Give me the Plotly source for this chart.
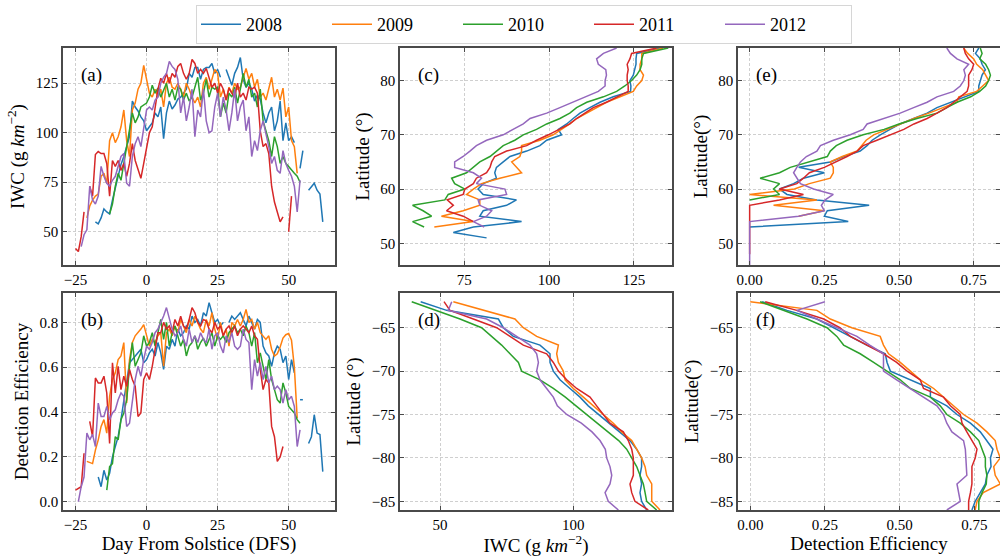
import plotly.graph_objects as go

YEARS = ["2008", "2009", "2010", "2011", "2012"]
COLORS = ["#1f77b4", "#ff7f0e", "#2ca02c", "#d62728", "#9467bd"]

# ---- Day-from-solstice panels (a) IWC and (b) detection efficiency ----
DFS_START = {"2008": -18, "2009": -21, "2010": -14, "2011": -25, "2012": -24}

IWC_2008 = [55, 54, 57, 61.5, 60, 59, 66, 72, 79, 84, 88, 93, 98, 116, 113, 111, 108, 106,
            101, 103, 105, 110, 108, 113, 97, 110, 116, 112, 114, 117, 118, 120, 122, 130, 128, 133,
            133, 127, 132, 133, 133, 135, 130, 132, 128, None,
            132, 128, 124, 130, 133, 138, 127, 123, 125, 122, 116, 119, 117, 110, 105, 110, 113, 101,
            106, 116, 96, 105, 96, 98, 95, None, 82, 91, None, 71, 73, 74.5, 71, 69, 55]
IWC_2009 = [57, 63, 66, 68, 69, 78, 79.5, 74.5, 96, 100, 95, 98, 103, 111.5, 96, 88, 111.5, 115, 122, 125, 134,
            127, 120, 118, 122, 118, 122, 113, 125, 128, 123,
            122, 125, 122, 118, 125, 122, 118, 115, 118, 113,
            125, 128, 122, 127, 132, 130, 118, 122, 116.5, 123,
            120, 125, 122, 123, 128, 132.5, 127, 130, 123, 127,
            118, 120, 116.5, 122, 128, 118, 122, 116.5, 122.5, 108,
            113, 96, 93, 79.5]
IWC_2010 = [None, 59, 64, 73, 79.5, 76, 84.5, 94.5, 101, 110, 105, 108, 113, 114,
            115, 118, 124, 120, 122.5, 118, 122, 125, 118, 122,
            116.5, 123, 122, 116.5, 120, 116, 118, 123, 128, 116.5,
            120, 127, 118, 123, 122, 123, 108, 115, 110, 120,
            118, 123, 115, 122, 130, 123, 127, 118, 120, 113,
            122, 106, 101, 96, 88, 98, 93, 84.5, 88, 84.5,
            83, 81, 79.5, 78, 75]
IWC_2011 = [41.5, 40, 47.5, 60, None, 73, 68, 89, 90.5, 89.5, 89.5, 84.5, 68, 86, 83, 86, 81, 84.5, 78, 84.5,
            94.5, 86, 81, 77, 84.5,
            93, 100, 103, 113, 122, 127.5, 125, 130, 125, 130,
            128, 133.5, 135, 130, 127, 130, 137, 135, 130, 132,
            130, 132.5, 127, 123, 125, 120, 125, 122, 116.5, 122.5,
            120, 118, 125, 118, 120, 116.5, 123, 122, 123, 120,
            101, 93, 94.5, 89.5, 73, 65, 60, 55, 57.5, None,
            50, 68]
IWC_2012 = [None, 42.5, 48.5, 51, 73, 66, 64, 68, 83, 78, 74.5, 73, 76, 78, 83, 88, 89.5, 74.5, 73, 88,
            94.5, 98, 93, 103,
            111.5, 113, 111.5, 116.5, 118, 125, 128, 130, 136, 133.5,
            132, 127, 110, 118, 106, 113, 122, 98, 111.5, 108,
            122, 106, 100, 101, 113, 120, 108, 118, 111.5, 101,
            110, 122, 106, 113, 116.5, 101, 108, 88, 96, 91,
            101, 106, 100, 93, 84.5, 88, 81, 79.5, 91, 84.5,
            81, 78, 73, 60, 76]

DE_2008 = [None, 0.11, 0.067, 0.14, 0.097, 0.127, 0.20, 0.246, 0.29, 0.366, 0.455, 0.545, 0.62, 0.634,
           0.65, 0.664, 0.68, 0.62,
           0.634, 0.664, 0.68, 0.65, 0.71, 0.664, 0.59, 0.694, 0.68, 0.724,
           0.694, 0.77, 0.74, 0.754, 0.784, 0.77, 0.828, 0.80, 0.813, 0.784,
           0.843, 0.828, 0.888, 0.843, 0.80, 0.813, 0.784, 0.80, None,
           0.80, 0.828, 0.813, 0.828, 0.843, 0.813, 0.784, 0.828, 0.80, 0.77,
           0.813, 0.80, 0.694, 0.664, 0.65, 0.604, 0.664, 0.694, 0.68, 0.62,
           0.65, 0.545, 0.634, 0.575, None, 0.455, 0.455, None,
           0.26, 0.29, 0.388, 0.306, 0.30, 0.134]
DE_2009 = [0.18, 0.175, 0.17, 0.23, 0.276, 0.336, 0.366, 0.306, 0.47, 0.545, 0.575, 0.634, 0.65, 0.71,
           0.44, 0.634, 0.71, 0.74, 0.754, 0.77, 0.79,
           0.74, 0.694, 0.724, 0.71, 0.74, 0.754, 0.604, 0.754, 0.77, 0.74,
           0.784, 0.754, 0.813, 0.784, 0.754, 0.813, 0.784, 0.828, 0.80, 0.77,
           0.754, 0.813, 0.784, 0.843, 0.77, 0.724, 0.80, 0.74, 0.77, 0.694,
           0.80, 0.784, 0.813, 0.784, 0.813, 0.858, 0.80, 0.813, 0.77, 0.80,
           0.754, 0.74, 0.724, 0.74, 0.68, 0.65, 0.66, 0.69, 0.73, 0.745,
           0.75, 0.72, 0.60, 0.373]
DE_2010 = [0.052, 0.157, 0.17, 0.29, 0.276, 0.366, 0.396, 0.455, 0.604, 0.71, 0.604, 0.634, 0.664, 0.74,
           0.694, 0.71, 0.754, 0.694, 0.754, 0.813, 0.724, 0.80, 0.694, 0.754,
           0.784, 0.74, 0.694, 0.724, 0.65, 0.694, 0.71, 0.74, 0.68, 0.71,
           0.73, 0.694, 0.724, 0.754, 0.694, 0.74, 0.724, 0.74, 0.71, 0.754,
           0.77, 0.784, 0.754, 0.77, 0.74, 0.784, 0.754, 0.694, 0.754, 0.62,
           0.664, 0.604, 0.545, 0.634, 0.545, 0.50, 0.455, 0.44, 0.53, 0.485,
           0.425, 0.41, 0.396, 0.366, 0.35]
DE_2011 = [0.052, 0.06, 0.067, 0.216, None, 0.358, 0.29, 0.552, 0.53, 0.53, 0.56, 0.485, 0.26, 0.62,
           0.485, 0.604, 0.50, 0.56, 0.515, 0.59, 0.545, 0.515, 0.38, 0.396, 0.545,
           0.575, 0.545, 0.604, 0.68, 0.754, 0.754, 0.80, 0.77, 0.784, 0.754,
           0.813, 0.784, 0.828, 0.784, 0.77, 0.813, 0.866, 0.843, 0.80, 0.784,
           0.813, 0.806, 0.77, 0.754, 0.80, 0.77, 0.784, 0.74, 0.77, 0.784,
           0.754, 0.784, 0.74, 0.77, 0.784, 0.77, 0.754, 0.784, 0.74, 0.724,
           0.59, 0.50, 0.545, 0.53, 0.336, 0.29, 0.18, 0.20, 0.246, None,
           None, None]
DE_2012 = [0.0, 0.067, 0.11, 0.306, 0.276, 0.30, 0.246, 0.44, 0.38, 0.38, 0.425, 0.366, 0.396, 0.41,
           0.455, 0.485, 0.47, 0.336, 0.35, 0.455, 0.545, 0.604, 0.56, 0.634,
           0.694, 0.68, 0.71, 0.754, 0.77, 0.80, 0.828, 0.866, 0.813, 0.77,
           0.74, 0.754, 0.784, 0.724, 0.694, 0.77, 0.71, 0.74, 0.71, 0.754,
           0.724, 0.71, 0.77, 0.68, 0.74, 0.754, 0.694, 0.664, 0.74, 0.71,
           0.754, 0.694, 0.68, 0.694, 0.77, 0.724, 0.71, 0.50, 0.634, 0.56,
           0.62, 0.545, 0.604, 0.53, 0.56, 0.50, 0.515, 0.50, 0.44, 0.50,
           0.455, 0.47, 0.425, 0.246, 0.32]

IWC_DFS = {"2008": IWC_2008, "2009": IWC_2009, "2010": IWC_2010, "2011": IWC_2011, "2012": IWC_2012}
DE_DFS = {"2008": DE_2008, "2009": DE_2009, "2010": DE_2010, "2011": DE_2011, "2012": DE_2012}

# ---- Northern hemisphere latitude profiles (c) IWC and (e) DE ----
NLAT_IWC_START = {"2008": 51, "2009": 53, "2010": 53, "2011": 54, "2012": 53}
IWC_N = {
    "2008": [81.6, 71.8, 77.7, 91.9, 79.6, 80.6, 87.5, 90.4, 80.6, 79.1, 80.6, 84.5, 84.0, 84.5, 86.5, 88.5,
             93.4, 97.3, 99.3, 103.7, 102.7, 105.2, 107.1, 109.1, 112.0, 115.0, 118.9, 124.0, 124.1, 123.8,
             124.8, 125.3, 125.6, 125.6, 125.8, 133],
    "2009": [66.2, 77.7, 68.3, 74.7, 79.6, 79.6, 75.7, 77.7, 80.1, 85.5, 91.9, 90.4, 89.0, 91.4, 91.9, 91.9,
             97.3, 101.2, 103.7, 106.1, 108.1, 111.1, 114.0, 116.9, 120.9, 124.8, 125.8, 127.3, 127.8, 126.8,
             126.8, 127.3, 127.3, 133.6],
    "2010": [63.2, 59.8, 65.4, 62.9, 59.8, 69.3, 70.3, 75.2, 72.2, 71.3, 75.7, 77.7, 79.6, 82.6, 84.5, 86.5,
             89.9, 92.4, 96.3, 99.3, 103.2, 106.1, 108.1, 111.1, 116.0, 119.9, 122.3, 124.3, 125.8, 126.8,
             127.3, 127.3, 127.8, 135.1],
    "2011": [77.7, 74.7, 69.8, 71.8, 70.0, 74.7, 75.2, 77.7, 78.6, 81.6, 82.6, 83.1, 84.0, 87.5, 93.4, 96.3,
             99.8, 103.2, 106.1, 108.1, 110.6, 113.0, 116.9, 119.9, 123.3, 123.3, 123.0, 123.0, 123.3, 123.0,
             123.8, 124.3, 131.7],
    "2012": [80.9, 77.7, 81.6, 83.1, 79.6, 79.1, 87.5, 87.0, 78.6, 80.1, 77.7, 72.2, 72.2, 74.7, 76.7, 78.6,
             81.6, 86.5, 89.4, 92.4, 94.4, 99.3, 103.2, 107.1, 111.1, 114.5, 116.5, 116.5, 116.9, 116.7,
             114.5, 114.0, 116.0, 119.9],
}
NLAT_DE_START = {"2008": 53, "2009": 55, "2010": 58, "2011": 48, "2012": 46}
DE_N = {
    "2008": [0.0, 0.33, 0.25, 0.26, 0.40, 0.225, 0.125, 0.10, 0.147, 0.18, 0.25, 0.164, 0.27, 0.315, 0.37,
             0.393, 0.41, 0.4375, 0.47, 0.504, 0.549, 0.594, 0.627, 0.672, 0.717, 0.767, 0.767, 0.772,
             0.778, 0.789, 0.778, 0.772, 0.756, 0.767],
    "2009": [0.164, 0.25, 0.08, 0.225, 0.0, 0.15, 0.20, 0.27, 0.28, 0.28, 0.27, 0.31, 0.36, 0.376, 0.39,
             0.415, 0.46, 0.50, 0.55, 0.60, 0.65, 0.694, 0.70, 0.76, 0.78, 0.80, 0.79, 0.78, 0.76, 0.75,
             0.73, 0.716],
    "2010": [0.0, 0.10, 0.08, 0.10, 0.035, 0.10, 0.136, 0.20, 0.26, 0.27, 0.29, 0.326, 0.38, 0.45, 0.50,
             0.56, 0.627, 0.66, 0.694, 0.74, 0.77, 0.79, 0.80, 0.806, 0.80, 0.79, 0.77, 0.778, 0.772],
    "2011": [0.0, 0.0, 0.0, 0.0, 0.0, 0.0, 0.0, 0.0, 0.0, 0.0, 0.1, 0.18, 0.10, 0.158, 0.18, 0.20, 0.25,
             0.29, 0.326, 0.36, 0.38, 0.426, 0.47, 0.516, 0.55, 0.594, 0.627, 0.66, 0.683, 0.705, 0.728,
             0.733, 0.733, 0.733, 0.744, 0.75, 0.733, 0.722, 0.717],
    "2012": [0.0, 0.0, 0.0, 0.0, 0.0, 0.0, 0.0, 0.0, 0.0, 0.164, 0.25, 0.24, 0.253, 0.28, 0.214, 0.17,
             0.158, 0.147, 0.158, 0.17, 0.19, 0.225, 0.237, 0.28, 0.337, 0.38, 0.393, 0.45, 0.504, 0.549,
             0.594, 0.627, 0.683, 0.705, 0.717, 0.722, 0.717, 0.733, 0.694, 0.672, 0.66],
}

# ---- Southern hemisphere latitude profiles (d) IWC and (f) DE ----
SLAT = [-62, -63, -64, -65, -66, -67, -68, -69, -70, -71, -72, -73, -74, -75, -76, -77, -78, -79, -80,
        -81, -82, -83, -84, -85, -86]
IWC_S = {
    "2008": [42.75, 52.5, 71.9, 73.75, 77.5, 87.5, 91.25, 91.25, 92.5, 95, 98.75, 102.5, 105.6, 109.5,
             113.75, 117.5, 121.25, 123.75, 125.6, 125.6, 125, 125.6, 125, 125.6, 127.5],
    "2009": [55, 66.25, 78.1, 81.25, 86.25, 94.4, 93.75, 94.4, 96.25, 96.9, 100, 103.75, 107.5, 111.25,
             115, 118.1, 121.9, 123.75, 125.6, 126.9, 127.5, 129.4, 129.4, 129.4, 132.5],
    "2010": [39.4, 48.75, 57.5, 65.6, 69.4, 73.1, 76.25, 79.4, 80.6, 87.5, 92.5, 97, 101, 105, 109,
             113, 117, 120, 122, 123.75, 125, 126.25, 126.9, 127.5, 131.25],
    "2011": [51.5, 53.75, 62.5, 71.25, 76.25, 81.25, 90, 92.5, 94.4, 97.5, 101.25, 106.25, 108.75, 111.25,
             113.75, 118.75, 120.6, 121.9, 122.5, 122.5, 122.5, 121.25, 121.9, 123.1, 128.1],
    "2012": [54.4, 53.1, 67.5, 73.75, 78.75, 83.75, 86.25, 86.9, 86.25, 87.5, 90, 92.5, 94, 97.5, 103,
             107, 110, 112, 112.5, 113.75, 114.4, 113.75, 111.9, 113.1, 116.9],
}
DE_S = {
    "2008": [0.04, 0.123, 0.223, 0.279, 0.335, 0.39, 0.452, 0.458, 0.469, 0.536, 0.603, 0.603, 0.658,
             0.692, 0.737, 0.77, 0.792, 0.8125, 0.804, 0.806, 0.792, 0.787, 0.77, 0.753, 0.742],
    "2009": [0.0, 0.223, 0.268, 0.34, 0.435, 0.446, 0.463, 0.502, 0.536, 0.569, 0.614, 0.647, 0.68,
             0.714, 0.759, 0.792, 0.82, 0.826, 0.837, 0.815, 0.82, 0.837, 0.78, 0.759, 0.753],
    "2010": [0.033, 0.112, 0.19, 0.257, 0.29, 0.3125, 0.368, 0.413, 0.458, 0.502, 0.536, 0.603, 0.636,
             0.658, 0.703, 0.737, 0.765, 0.776, 0.787, 0.787, 0.792, 0.79, 0.776, 0.765, 0.765],
    "2011": [0.05, 0.156, 0.246, 0.30, 0.335, 0.39, 0.446, 0.49, 0.525, 0.569, 0.58, 0.647, 0.67, 0.703,
             0.709, 0.725, 0.742, 0.759, 0.753, 0.742, 0.742, 0.742, 0.737, 0.731, 0.731],
    "2012": [0.25, 0.156, 0.223, 0.29, 0.357, 0.40, 0.446, 0.446, 0.446, 0.49, 0.536, 0.58, 0.625,
             0.647, 0.658, 0.675, 0.714, 0.72, 0.722, 0.725, 0.725, 0.692, 0.698, 0.703, 0.658],
}

FONT = "Liberation Serif"
fig = go.Figure()

for i, yr in enumerate(YEARS):
    c = COLORS[i]
    line = dict(color=c, width=1.5)
    d0 = DFS_START[yr]
    iwc = IWC_DFS[yr]
    de = DE_DFS[yr]
    fig.add_trace(go.Scatter(x=list(range(d0, d0 + len(iwc))), y=iwc, mode="lines", line=line,
                             name=yr, legendgroup=yr, showlegend=True, xaxis="x", yaxis="y"))
    fig.add_trace(go.Scatter(x=list(range(d0, d0 + len(de))), y=de, mode="lines", line=line,
                             name=yr, legendgroup=yr, showlegend=False, xaxis="x2", yaxis="y2"))
    l0 = NLAT_IWC_START[yr]
    fig.add_trace(go.Scatter(x=IWC_N[yr], y=list(range(l0, l0 + len(IWC_N[yr]))), mode="lines", line=line,
                             name=yr, legendgroup=yr, showlegend=False, xaxis="x3", yaxis="y3"))
    fig.add_trace(go.Scatter(x=IWC_S[yr], y=SLAT, mode="lines", line=line,
                             name=yr, legendgroup=yr, showlegend=False, xaxis="x4", yaxis="y4"))
    l1 = NLAT_DE_START[yr]
    fig.add_trace(go.Scatter(x=DE_N[yr], y=list(range(l1, l1 + len(DE_N[yr]))), mode="lines", line=line,
                             name=yr, legendgroup=yr, showlegend=False, xaxis="x5", yaxis="y5"))
    fig.add_trace(go.Scatter(x=DE_S[yr], y=SLAT, mode="lines", line=line,
                             name=yr, legendgroup=yr, showlegend=False, xaxis="x6", yaxis="y6"))


def ax(domain, rng, anchor, dtick, tick0=0, fmt=None, title=None, standoff=4):
    d = dict(domain=domain, range=rng, anchor=anchor, dtick=dtick, tick0=tick0,
             showline=True, linecolor="#4a4a4a", linewidth=1.5, mirror="ticks",
             ticks="inside", ticklen=4, tickwidth=1, tickcolor="#4a4a4a",
             showgrid=True, gridcolor="#cfcfcf", gridwidth=0.7, griddash="3px,2px",
             zeroline=False, automargin=False,
             tickfont=dict(family=FONT, size=15, color="black"))
    if fmt:
        d["tickformat"] = fmt
    if title:
        d["title"] = dict(text=title, font=dict(family=FONT, size=19, color="black"), standoff=standoff)
    return d


XA = [0.063, 0.335]
XC = [0.400, 0.672]
XE = [0.738, 1.0]
YT = [1 - 265 / 557, 1 - 48 / 557]
YB = [1 - 510 / 557, 1 - 293 / 557]
IWC_T = "IWC (g <i>km</i><sup>−2</sup>)"

fig.update_layout(
    width=1000, height=557,
    margin=dict(l=0, r=0, t=0, b=0),
    paper_bgcolor="white", plot_bgcolor="white",
    font=dict(family=FONT, size=15, color="black"),
    xaxis=ax(XA, [-29.4, 66.3], "y", 25, -25),
    yaxis=ax(YT, [33.2, 142.8], "x", 25, 0, title=IWC_T, standoff=6),
    xaxis2=ax(XA, [-29.4, 66.3], "y2", 25, -25, title="Day From Solstice (DFS)", standoff=0),
    yaxis2=ax(YB, [-0.037, 0.931], "x2", 0.2, 0, fmt=".1f", title="Detection Efficiency", standoff=6),
    xaxis3=ax(XC, [56.1, 136.2], "y3", 25, 0),
    yaxis3=ax(YT, [46, 86], "x3", 10, 0, title="Latitude (°)", standoff=6),
    xaxis4=ax(XC, [35, 137], "y4", 50, 0, title=IWC_T, standoff=0),
    yaxis4=ax(YB, [-86, -61], "x4", 5, 0, title="Latitude (°)", standoff=6),
    xaxis5=ax(XE, [-0.039, 0.838], "y5", 0.25, 0, fmt=".2f"),
    yaxis5=ax(YT, [46, 86], "x5", 10, 0, title="Latitude(°)", standoff=6),
    xaxis6=ax(XE, [-0.041, 0.836], "y6", 0.25, 0, fmt=".2f", title="Detection Efficiency", standoff=0),
    yaxis6=ax(YB, [-86, -61], "x6", 5, 0, title="Latitude(°)", standoff=6),
    legend=dict(orientation="h", x=0.524, xanchor="center", y=1 - 5 / 557, yanchor="top",
                font=dict(family=FONT, size=18, color="black"),
                bordercolor="#d6d6d6", borderwidth=1, bgcolor="white",
                entrywidth=76, entrywidthmode="pixels", itemwidth=40),
    showlegend=True,
)

labels = ["(a)", "(b)", "(c)", "(d)", "(e)", "(f)"]
for k, lab in enumerate(labels):
    xr = "x domain" if k == 0 else f"x{k + 1} domain"
    yr_ = "y domain" if k == 0 else f"y{k + 1} domain"
    fig.add_annotation(text=lab, xref=xr, yref=yr_, x=0.06, y=0.876, xanchor="left", yanchor="middle",
                       showarrow=False, font=dict(family=FONT, size=19, color="black"))

fig.write_html("out.html")
